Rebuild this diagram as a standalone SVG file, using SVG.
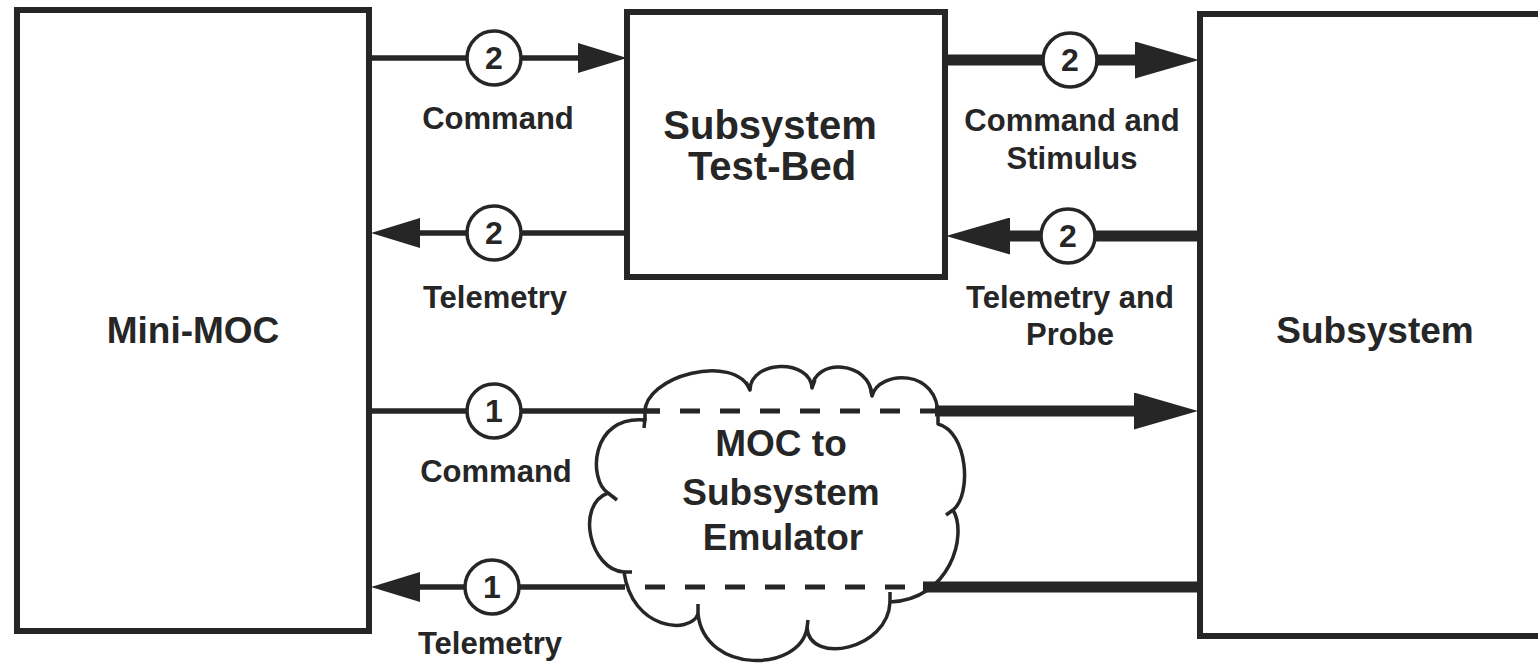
<svg xmlns="http://www.w3.org/2000/svg" width="1538" height="665" viewBox="0 0 1538 665">
<style>
.box{fill:#fff;stroke:#262626;stroke-width:6}
.node{font-family:"Liberation Sans",Arial,sans-serif;font-weight:bold;font-size:37px;fill:#262626;text-anchor:middle}
.big{font-size:40px}
.lbl{font-family:"Liberation Sans",Arial,sans-serif;font-weight:bold;font-size:31px;fill:#262626;text-anchor:middle}
.dig{font-family:"Liberation Sans",Arial,sans-serif;font-weight:bold;font-size:32px;fill:#262626;text-anchor:middle}
.thin{fill:none;stroke:#262626;stroke-width:5.5}
.thick{fill:none;stroke:#262626;stroke-width:11}
.dash{fill:none;stroke:#262626;stroke-width:5;stroke-dasharray:20 20}
.num{fill:#fff;stroke:#262626;stroke-width:3.5}
.cloud{fill:#fff;stroke:#262626;stroke-width:3.5;stroke-linejoin:round}
</style>
<defs>
<marker id="ahThin" viewBox="0 0 49 30" refX="0" refY="15" markerWidth="49" markerHeight="30" markerUnits="userSpaceOnUse" orient="auto"><path d="M0,0 L49,15 L0,30 Z" fill="#262626"/></marker>
<marker id="ahThick" viewBox="0 0 64 37" refX="0" refY="18.5" markerWidth="64" markerHeight="37" markerUnits="userSpaceOnUse" orient="auto"><path d="M0,0 L64,18.5 L0,37 Z" fill="#262626"/></marker>
</defs>
<rect width="1538" height="665" fill="#fff"/>

<g id="mini-moc">
<rect class="box" x="17" y="10" width="352" height="621"/>
<text class="node" x="193" y="343">Mini-MOC</text>
</g>
<g id="test-bed">
<rect class="box" x="627" y="12" width="318" height="265"/>
<text class="node big" x="770" y="139">Subsystem</text>
<text class="node big" x="772" y="180">Test-Bed</text>
</g>
<g id="subsystem">
<rect class="box" x="1200" y="14" width="345" height="622"/>
<text class="node" x="1375" y="343">Subsystem</text>
</g>
<g id="emulator">
<path class="cloud" d="M645,414 C642,376 735,352 750,390 C750,360 810,358 812,388 C814,358 870,360 872,396 C878,370 940,367 938,418 L938,424 C968,432 972,495 953,510 C968,535 950,600 890,602 C888,650 810,665 807,628 C800,672 705,675 698,614 C690,635 632,630 624,572 C590,570 575,505 608,493 C588,480 590,415 645,420 Z"/>
<path fill="none" stroke="#262626" stroke-width="3.5" d="M645,418 L644,428 M608,493 L617,500 M624,572 L632,572 M698,614 L698,604 M807,628 L808,620 M890,602 L890,592 M953,510 L946,515 M750,390 L746,382 M812,388 L815,380 M872,396 L870,386"/>
<text class="node" x="781" y="456">MOC to</text>
<text class="node" x="781" y="505">Subsystem</text>
<text class="node" x="783" y="550">Emulator</text>
</g>

<g id="connectors">
<g id="c-command-2">
<path class="thin" d="M369,58 H578" marker-end="url(#ahThin)"/>
<circle class="num" cx="494" cy="58" r="27"/>
<text class="dig" x="494" y="69">2</text>
<text class="lbl" x="498" y="129">Command</text>
</g>
<g id="c-command-stimulus">
<path class="thick" d="M945,60 H1135" marker-end="url(#ahThick)"/>
<circle class="num" cx="1070" cy="60" r="27"/>
<text class="dig" x="1070" y="71">2</text>
<text class="lbl" x="1072" y="131">Command and</text>
<text class="lbl" x="1072" y="169">Stimulus</text>
</g>
<g id="c-telemetry-2">
<path class="thin" d="M627,233 H420" marker-end="url(#ahThin)"/>
<circle class="num" cx="494" cy="233" r="27"/>
<text class="dig" x="494" y="244">2</text>
<text class="lbl" x="495" y="308">Telemetry</text>
</g>
<g id="c-telemetry-probe">
<path class="thick" d="M1200,236 H1010" marker-end="url(#ahThick)"/>
<circle class="num" cx="1068" cy="236" r="27"/>
<text class="dig" x="1068" y="247">2</text>
<text class="lbl" x="1070" y="308">Telemetry and</text>
<text class="lbl" x="1070" y="345">Probe</text>
</g>
<g id="c-command-1">
<path class="thin" d="M369,411 H660"/>
<path class="dash" d="M680,411 H935"/>
<path class="thick" d="M935,411 H1134" marker-end="url(#ahThick)"/>
<circle class="num" cx="494" cy="411" r="27"/>
<text class="dig" x="494" y="422">1</text>
<text class="lbl" x="496" y="482">Command</text>
</g>
<g id="c-telemetry-1">
<path class="thick" d="M1200,587 H923"/>
<path class="dash" d="M905,587 H645"/>
<path class="thin" d="M625,587 H420" marker-end="url(#ahThin)"/>
<circle class="num" cx="492" cy="587" r="27"/>
<text class="dig" x="492" y="598">1</text>
<text class="lbl" x="490" y="654">Telemetry</text>
</g>
</g>
</svg>
